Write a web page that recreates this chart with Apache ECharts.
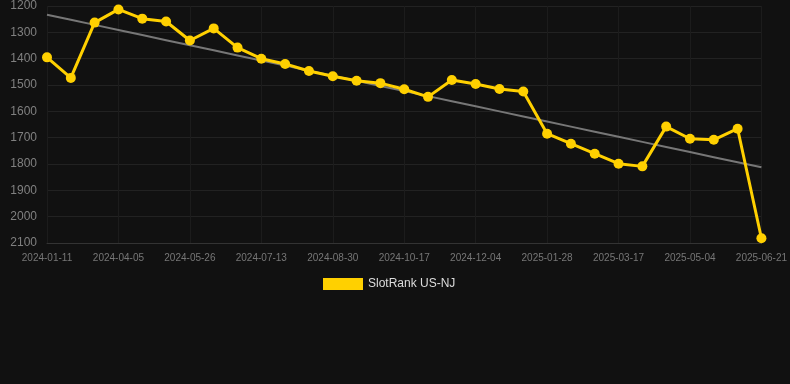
<!DOCTYPE html>
<html>
<head>
<meta charset="utf-8">
<script src="https://cdn.jsdelivr.net/npm/echarts@6/dist/echarts.min.js"></script>
<style>html,body{margin:0;padding:0;background:#111111;}#c{width:790px;height:384px;}</style>
</head>
<body>
<div id="c"></div>
<script>
const categories = ["2024-01-11","2024-02-08","2024-03-08","2024-04-05","2024-04-22","2024-05-09","2024-05-26","2024-06-11","2024-06-27","2024-07-13","2024-07-29","2024-08-14","2024-08-30","2024-09-15","2024-10-01","2024-10-17","2024-11-02","2024-11-18","2024-12-04","2024-12-22","2025-01-09","2025-01-28","2025-02-13","2025-03-01","2025-03-17","2025-04-02","2025-04-18","2025-05-04","2025-05-20","2025-06-05","2025-06-21"];
const rankValues = [1395,1473,1263,1213,1248,1259,1331,1285,1358,1400,1420,1447,1467,1484,1493,1516,1545,1481,1496,1515,1525,1685,1723,1761,1799,1809,1658,1704,1708,1666,2082];
const seriesName = "SlotRank US-NJ";

// linear regression trend
const n = rankValues.length;
let sx=0, sy=0, sxy=0, sxx=0;
rankValues.forEach((v,i)=>{sx+=i;sy+=v;sxy+=i*v;sxx+=i*i;});
const slope = (n*sxy - sx*sy)/(n*sxx - sx*sx);
const intercept = (sy - slope*sx)/n;
const trend = rankValues.map((v,i)=>intercept + slope*i);

const chart = echarts.init(document.getElementById('c'), null, {renderer:'canvas'});
chart.setOption({
  backgroundColor: '#111111',
  animation: false,
  grid: {left: 47, right: 28, top: 6, bottom: 141},
  legend: {
    top: 273, left: 318,
    itemWidth: 40, itemHeight: 12, itemGap: 10,
    textStyle: {color: '#dddddd', fontSize: 12, fontFamily: 'Arial, Liberation Sans, sans-serif'},
    data: [{name: seriesName, icon: 'rect'}]
  },
  xAxis: {
    type: 'category', data: categories, boundaryGap: false,
    axisLine: {lineStyle: {color: '#333333'}},
    axisTick: {show: false},
    axisLabel: {interval: 2, color: '#777777', fontSize: 10, margin: 10, fontFamily: 'Arial, Liberation Sans, sans-serif'},
    splitLine: {show: true, interval: 2, lineStyle: {color: '#1c1c1c'}}
  },
  yAxis: {
    type: 'value', inverse: true, min: 1200, max: 2100, interval: 100,
    axisLine: {show: false}, axisTick: {show: false},
    axisLabel: {color: '#808080', fontSize: 12, margin: 10, fontFamily: 'Arial, Liberation Sans, sans-serif', formatter: v => String(v)},
    splitLine: {lineStyle: {color: '#222222'}}
  },
  series: [
    {
      name: 'trend', type: 'line', data: trend, symbol: 'none', silent: true,
      lineStyle: {color: '#777777', width: 2}, z: 1
    },
    {
      name: seriesName, type: 'line', data: rankValues,
      symbol: 'circle', symbolSize: 10,
      itemStyle: {color: '#FFD000'},
      lineStyle: {color: '#FFD000', width: 3}, z: 2
    }
  ]
});
</script>
</body>
</html>
